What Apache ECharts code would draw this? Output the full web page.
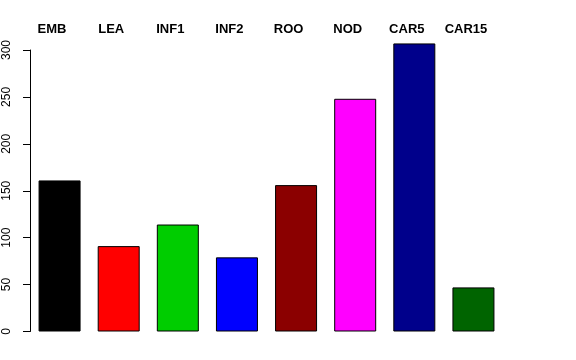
<!DOCTYPE html>
<html>
<head>
<meta charset="utf-8">
<script src="https://cdn.jsdelivr.net/npm/echarts@6/dist/echarts.min.js"></script>
<style>
html,body{margin:0;padding:0;background:#fff;}
#chart{width:576px;height:360px;}
</style>
</head>
<body>
<div id="chart"></div>
<script>
const categories = ['EMB', 'LEA', 'INF1', 'INF2', 'ROO', 'NOD', 'CAR5', 'CAR15'];
const values = [161, 91, 114, 79, 156, 248, 307, 47];
const colors = ['#000000', '#FF0000', '#00CD00', '#0000FF', '#8B0000', '#FF00FF', '#00008B', '#006400'];
const yTicks = [0, 50, 100, 150, 200, 250, 300];

const chart = echarts.init(document.getElementById('chart'), null, {renderer: 'canvas'});
const font = '"Liberation Sans", Arial, Helvetica, sans-serif';
chart.setOption({
  animation: false,
  backgroundColor: '#ffffff',
  textStyle: {fontFamily: font},
  grid: {left: 30, right: 73, top: 50, bottom: 28.5},
  xAxis: [
    {
      type: 'category', data: categories, position: 'bottom',
      axisLine: {show: false}, axisTick: {show: false}, axisLabel: {show: false}
    },
    {
      type: 'category', data: categories, position: 'top',
      axisLine: {show: false}, axisTick: {show: false},
      axisLabel: {
        show: true, interval: 0, margin: 14, color: '#000', fontSize: 13,
        fontWeight: 'bold', fontFamily: font, padding: [0, 15, 0, 0]
      }
    }
  ],
  yAxis: {
    type: 'value', min: yTicks[0], max: yTicks[yTicks.length - 1], interval: 50,
    axisLine: {show: true, lineStyle: {color: '#000', width: 1}},
    axisTick: {show: true, length: 7, lineStyle: {color: '#000'}},
    splitLine: {show: false},
    axisLabel: {rotate: 90, margin: 17, color: '#000', fontSize: 12, fontFamily: font}
  },
  series: [{
    type: 'bar',
    xAxisIndex: 0,
    clip: false,
    barWidth: 42,
    data: values.map((v, i) => ({value: v, itemStyle: {color: colors[i]}})),
    itemStyle: {borderColor: '#000', borderWidth: 1}
  }]
});
</script>
</body>
</html>
